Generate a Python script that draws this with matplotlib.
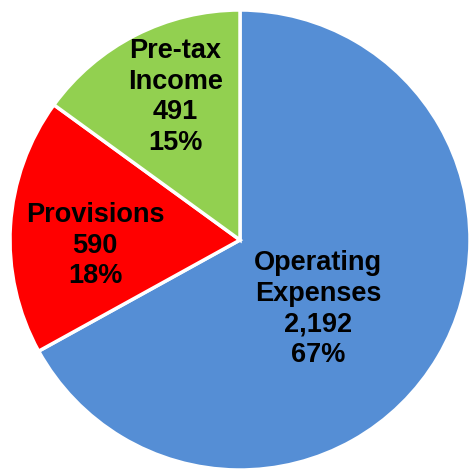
import matplotlib.pyplot as plt

categories = ["Operating\nExpenses", "Provisions", "Pre-tax\nIncome"]
values = [2192, 590, 491]
colors = ["#558ED5", "#FF0000", "#92D050"]

# where each label block sits inside its slice
label_pos = [(0.34, -0.30), (-0.63, -0.024), (-0.28, 0.622)]

fig = plt.figure(figsize=(4.69, 4.71), dpi=100)
W, H = 469, 471
cx, cy, r = 240, 240, 230
ax = fig.add_axes([(cx - r) / W, (H - cy - r) / H, 2 * r / W, 2 * r / H])

ax.pie(values, colors=colors, startangle=90, counterclock=False,
       radius=1, wedgeprops=dict(edgecolor="white", linewidth=2.5))
ax.set_xlim(-1, 1)
ax.set_ylim(-1, 1)
ax.set_aspect("equal")
ax.axis("off")

total = sum(values)
for name, v, (x, y) in zip(categories, values, label_pos):
    pct = round(100 * v / total)
    ax.text(x, y, f"{name}\n{v:,}\n{pct}%", ha="center", va="center",
            fontsize=19.5, fontweight="bold", family="Liberation Sans",
            linespacing=1.22, color="black")

fig.savefig("out.png", dpi=100)
